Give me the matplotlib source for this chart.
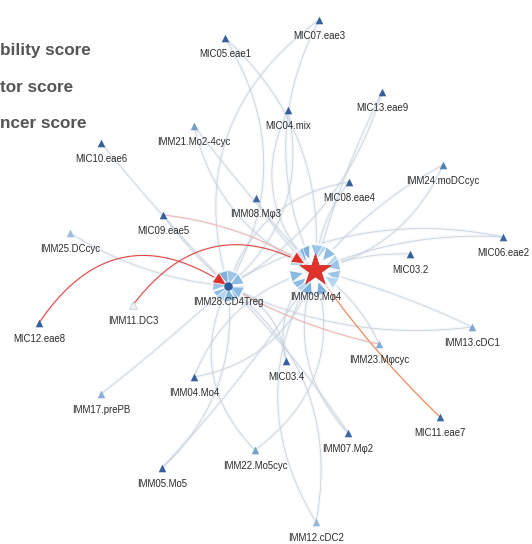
import numpy as np
import matplotlib
matplotlib.use("Agg")
import matplotlib.pyplot as plt
from matplotlib.patches import Polygon, Circle
from matplotlib.colors import LinearSegmentedColormap, to_rgb

plt.rcParams["font.family"] = ["Liberation Sans", "DejaVu Sans"]

# ---- nodes -------------------------------------------------------------
node_names = [
    "MIC07.eae3", "MIC05.eae1", "MIC13.eae9", "MIC04.mix", "IMM21.Mo2-4cyc",
    "MIC10.eae6", "IMM24.moDCcyc", "MIC08.eae4", "IMM08.Mφ3", "MIC09.eae5",
    "IMM25.DCcyc", "MIC06.eae2", "MIC03.2", "IMM09.Mφ4", "IMM28.CD4Treg",
    "IMM11.DC3", "MIC12.eae8", "IMM13.cDC1", "IMM23.Mφcyc", "MIC03.4",
    "IMM04.Mo4", "MIC11.eae7", "IMM17.prePB", "IMM07.Mφ2", "IMM22.Mo5cyc",
    "IMM05.Mo5", "IMM12.cDC2",
]
# layout coordinates (x right, y down)
node_x = [319, 225, 382, 288, 194, 101, 443, 349, 256, 163, 70, 503, 410,
          315, 228, 133, 39, 472, 379, 286, 194, 440, 101, 348, 255, 162, 316]
node_y = [20, 38, 92, 110, 126, 143, 165, 182, 198, 215, 233, 237, 254,
          270, 286, 305, 323, 327, 344, 361, 377, 417, 394, 433, 450, 468, 522]
# node score (colour intensity)
node_score = [0.95, 0.95, 0.95, 0.95, 0.55, 0.95, 0.75, 0.95, 0.9, 0.95,
              0.3, 0.9, 0.95, 1.0, 1.0, 0.05, 0.95, 0.5, 0.45, 0.95,
              0.95, 0.9, 0.45, 0.9, 0.55, 0.95, 0.35]

# ---- edges -------------------------------------------------------------
edge_src = [
    "MIC07.eae3", "MIC05.eae1", "MIC13.eae9", "MIC04.mix", "IMM21.Mo2-4cyc",
    "MIC08.eae4", "IMM08.Mφ3", "IMM24.moDCcyc", "MIC03.2", "IMM13.cDC1",
    "IMM23.Mφcyc", "MIC03.4", "IMM22.Mo5cyc", "IMM12.cDC2", "IMM05.Mo5",
    "IMM04.Mo4", "MIC09.eae5", "IMM11.DC3", "MIC06.eae2", "MIC10.eae6",
    "MIC09.eae5", "IMM25.DCcyc", "MIC12.eae8", "IMM17.prePB", "IMM07.Mφ2",
    "MIC03.4", "IMM22.Mo5cyc", "MIC04.mix", "MIC07.eae3", "MIC05.eae1",
    "IMM04.Mo4", "IMM12.cDC2", "IMM09.Mφ4", "IMM28.CD4Treg", "MIC06.eae2",
    "IMM13.cDC1", "IMM05.Mo5", "MIC08.eae4", "IMM21.Mo2-4cyc", "MIC13.eae9",
    "IMM07.Mφ2", "IMM24.moDCcyc",
]
edge_dst = [
    "IMM09.Mφ4", "IMM09.Mφ4", "IMM09.Mφ4", "IMM09.Mφ4", "IMM09.Mφ4",
    "IMM09.Mφ4", "IMM09.Mφ4", "IMM09.Mφ4", "IMM09.Mφ4", "IMM09.Mφ4",
    "IMM09.Mφ4", "IMM09.Mφ4", "IMM09.Mφ4", "IMM09.Mφ4", "IMM09.Mφ4",
    "IMM09.Mφ4", "IMM09.Mφ4", "IMM09.Mφ4", "IMM09.Mφ4", "IMM28.CD4Treg",
    "IMM28.CD4Treg", "IMM28.CD4Treg", "IMM28.CD4Treg", "IMM28.CD4Treg",
    "IMM28.CD4Treg", "IMM28.CD4Treg", "IMM28.CD4Treg", "IMM28.CD4Treg",
    "IMM28.CD4Treg", "IMM28.CD4Treg", "IMM09.Mφ4", "IMM28.CD4Treg",
    "MIC11.eae7", "IMM23.Mφcyc", "IMM28.CD4Treg", "IMM28.CD4Treg",
    "IMM28.CD4Treg", "IMM28.CD4Treg", "IMM09.Mφ4", "IMM28.CD4Treg",
    "IMM09.Mφ4", "IMM09.Mφ4",
]
edge_kind = [
    "base", "base", "base", "base", "base",
    "base", "base", "base", "base", "base",
    "base", "base", "base", "base", "base",
    "base", "pink", "red", "base", "base",
    "base", "base", "red", "base", "base",
    "base", "base", "base", "base", "base",
    "base", "base", "orange", "pink", "base",
    "base", "base", "base", "base", "base",
    "base", "base",
]
# curvature of each drawn arc
edge_bend = [
    0.25, -0.25, 0.05, 0.35, 0.02,
    0.15, 0.1, 0.1, 0.1, 0.05,
    0.15, -0.3, 0.35, -0.3, 0.05,
    -0.25, -0.12, -0.45, 0.12, 0.02,
    0.05, 0.12, -0.5, 0.02, 0.05,
    0.3, -0.35, -0.3, 0.35, -0.3,
    0.3, 0.3, 0.05, 0.08, 0.2,
    -0.15, 0.25, 0.3, 0.25, -0.2,
    -0.3, -0.25,
]

pos = {n: np.array([x, y], float) for n, x, y in zip(node_names, node_x, node_y)}
score = dict(zip(node_names, node_score))
# arrowhead geometry at each hub: tip radius, length, half width
hubs = {"IMM09.Mφ4": (12.0, 13.0, 6.0), "IMM28.CD4Treg": (2.0, 13.0, 6.0)}

node_cmap = LinearSegmentedColormap.from_list("nodeblue", ["#c9dcee", "#7ea8d2", "#2c5896"])
kind_color = {"base": "#c9ced6", "red": "#e2332b", "orange": "#ef7a3c", "pink": "#f0b0a8"}
kind_head = {"red": "#e0302a", "orange": "#ef6b38", "pink": "#e87a62"}
head_palette = ["#7fb1dc", "#9cc4e6", "#b6d5ee", "#8bbbe2"]


def lighten(c, f):
    r = np.array(to_rgb(c))
    return tuple(r + (1 - r) * f)


fig = plt.figure(figsize=(5.32, 5.44), dpi=100)
ax = fig.add_axes([0, 0, 1, 1])
ax.set_xlim(0, 532)
ax.set_ylim(544, 0)
ax.axis("off")

t = np.linspace(0, 1, 80)[:, None]
heads = []
for i, (s, d, k, b) in enumerate(zip(edge_src, edge_dst, edge_kind, edge_bend)):
    p0, p2 = pos[s], pos[d]
    dv = p2 - p0
    p1 = (p0 + p2) / 2 + b * np.array([-dv[1], dv[0]])
    curve = (1 - t) ** 2 * p0 + 2 * (1 - t) * t * p1 + t ** 2 * p2
    # soft blue haze along the edge, thin line on top
    ax.plot(curve[:, 0], curve[:, 1], color="#d8e9f6", lw=2.6, alpha=0.25,
            solid_capstyle="round", zorder=1)
    ax.plot(curve[:, 0], curve[:, 1], color=kind_color[k],
            lw=0.6 if k == "base" else 0.8, alpha=0.9,
            zorder=1.2 if k == "base" else 1.5)
    if d in hubs:
        r_tip, L, w = hubs[d]
        u = p2 - p1
        u = u / np.linalg.norm(u)
        nrm = np.array([-u[1], u[0]])
        tip = p2 - u * r_tip
        base = tip - u * L
        fc = head_palette[i % len(head_palette)] if k == "base" else kind_head[k]
        heads.append(([tip, base + nrm * w, base - nrm * w], fc, k))

# halo behind the hubs
ax.add_patch(Circle(pos["IMM09.Mφ4"], 28, facecolor="white", alpha=0.6, lw=0, zorder=2))
ax.add_patch(Circle(pos["IMM28.CD4Treg"], 17, facecolor="white", alpha=0.5, lw=0, zorder=2))

for pts, fc, k in heads:
    ax.add_patch(Polygon(pts, closed=True, facecolor=fc, edgecolor="white", lw=0.5,
                         zorder=3 if k == "base" else 3.5))

for n in node_names:
    x, y = pos[n]
    if n == "IMM09.Mφ4":
        ax.scatter([x], [y], marker="*", s=560, color="#e0322a", edgecolor="#c42a22",
                   linewidth=0.5, zorder=5)
        ax.text(x + 1, y + 27, n, ha="center", va="center", fontsize=6.9,
                color="#2b2b2b", zorder=6)
    elif n == "IMM28.CD4Treg":
        ax.scatter([x], [y], marker="o", s=26, color="#2f5c9e", zorder=5)
        ax.text(x, y + 16, n, ha="center", va="center", fontsize=6.9,
                color="#2b2b2b", zorder=6)
    else:
        c = node_cmap(score[n])
        if score[n] < 0.1:
            ax.scatter([x], [y], marker="^", s=30, facecolor="#f2f4f6",
                       edgecolor="#c5ccd4", linewidth=0.6, zorder=5)
        else:
            ax.scatter([x], [y], marker="^", s=30, color=c, linewidth=0, zorder=5)
        ax.text(x, y + 16, n, ha="center", va="center", fontsize=6.9,
                color="#2b2b2b", zorder=6)

# score legend (cut at the left edge)
legend_labels = ["bility score", "tor score", "ncer score"]
legend_y = [50, 87, 124]
for lab, ly in zip(legend_labels, legend_y):
    ax.text(0, ly, lab, ha="left", va="center", fontsize=12.3, fontweight="bold",
            color="#555555")

fig.savefig("out.png", dpi=100)
